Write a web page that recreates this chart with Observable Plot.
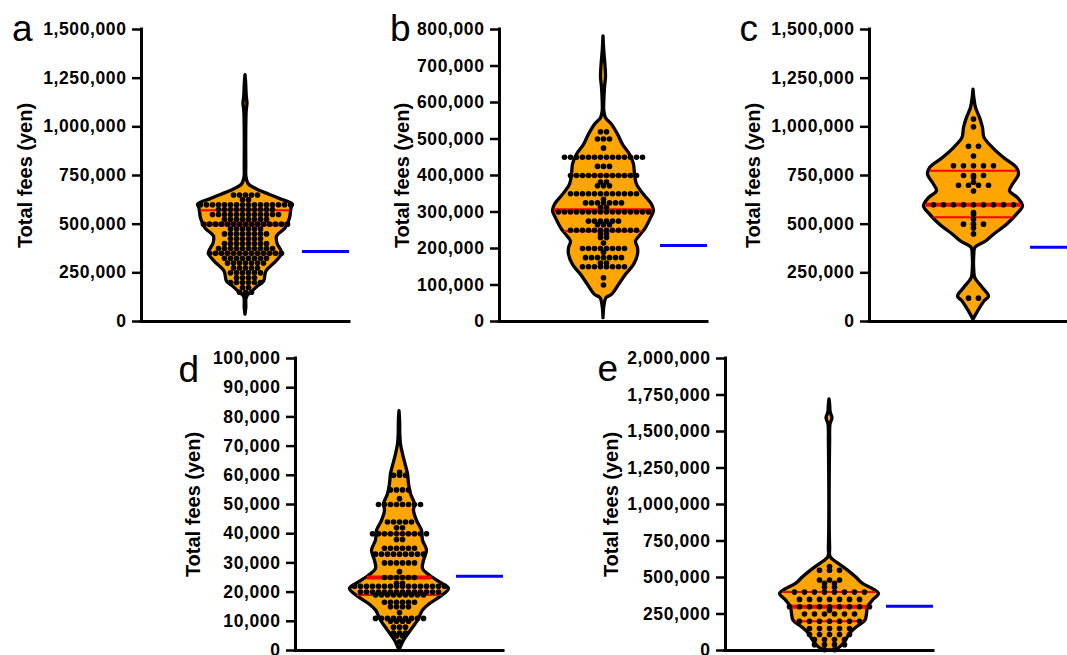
<!DOCTYPE html>
<html><head><meta charset="utf-8">
<script src="https://cdn.jsdelivr.net/npm/d3@7"></script>
<script src="https://cdn.jsdelivr.net/npm/@observablehq/plot@0.6"></script>
<style>
html, body {margin:0; padding:0; background:#fff; overflow:hidden;}
#chart {position:relative; width:1067px; height:655px; overflow:hidden; background:#fff;}
.panel {position:absolute;}
.panel svg {overflow:visible; background:transparent;}
.panel [aria-label^="y-axis"] text {font-family:"Liberation Sans", Arial, sans-serif; font-size:17.5px; font-weight:bold; letter-spacing:0.6px; fill:#000;}
.panel [aria-label^="y-axis"] line, .panel [aria-label^="y-axis"] path {stroke:#000; stroke-width:2.5px;}
</style></head>
<body><div id="chart"></div>
<script>
// ---------- data ----------
const yLabel = "Total fees (yen)";
const panelLetters = ["a", "b", "c", "d", "e"];

const aTicks = [0, 250000, 500000, 750000, 1000000, 1250000, 1500000];
const bTicks = [0, 100000, 200000, 300000, 400000, 500000, 600000, 700000, 800000];
const cTicks = [0, 250000, 500000, 750000, 1000000, 1250000, 1500000];
const dTicks = [0, 10000, 20000, 30000, 40000, 50000, 60000, 70000, 80000, 90000, 100000];
const eTicks = [0, 250000, 500000, 750000, 1000000, 1250000, 1500000, 1750000, 2000000];

// violin outline: [fee, density (half width)]
const aViolin = [[35000,0],[70000,0.8],[110000,0.8],[128000,1.5],[154000,7],[180000,12.5],[205000,18.5],[257000,21],[308000,31],[350000,36.5],[400000,32],[436000,31.5],[478000,40],[529000,44.5],[580000,46],[600000,47.5],[612000,44],[626000,36],[652000,23.5],[678000,11.5],[703000,3.5],[740000,1],[800000,0.8],[1000000,0.8],[1080000,1.2],[1120000,2],[1160000,1.2],[1230000,0.6],[1266000,0]];
const bViolin = [[9000,0],[40000,0.8],[64000,3],[73000,8.5],[100000,15.5],[128000,22.5],[155000,30.5],[183000,34.5],[201000,34.5],[219000,32.5],[238000,37.5],[256000,42.5],[283000,47.5],[302000,50.5],[320000,48.5],[347000,40.5],[375000,33.5],[402000,31.5],[430000,30.5],[457000,26.5],[484000,19.5],[512000,14.5],[539000,8.5],[557000,2.5],[576000,0.8],[603000,0.8],[640000,1.5],[670000,2.5],[700000,2],[740000,0.8],[781000,0]];
const cViolin = [[9000,0],[51000,4.5],[103000,11],[128000,15.5],[171000,9.5],[223000,1.8],[257000,0.8],[343000,0.8],[377000,1.8],[411000,12.5],[446000,20.5],[497000,33.5],[549000,43.5],[591000,49.5],[634000,44.5],[668000,36.5],[711000,40.5],[754000,45.5],[788000,43.5],[840000,30.5],[891000,19.5],[943000,11],[994000,9.5],[1046000,6.5],[1097000,2.5],[1149000,0.8],[1191000,0]];
const dViolin = [[0,0],[3400,4.5],[6800,11.5],[10200,18.5],[13700,23.5],[15900,30.5],[18200,40.5],[21100,49.5],[23300,40.5],[25600,30.5],[27900,23.5],[30700,24.5],[34200,27.5],[37600,23.5],[41000,22.5],[44400,17.5],[47800,14.5],[50100,15.5],[53500,11.5],[57000,9.5],[60400,8.5],[63800,6],[67200,3.5],[70600,1.5],[74000,0.8],[78600,0.6],[82000,0]];
const eViolin = [[0,4],[11000,8.5],[34000,12.5],[68000,16.5],[114000,20.5],[159000,27.5],[205000,36],[250000,37.5],[296000,38.5],[342000,43.5],[387000,49.5],[421000,43.5],[456000,33.5],[501000,26.5],[547000,18.5],[592000,9.5],[638000,1.2],[706000,0.6],[1435000,0.6],[1549000,1],[1590000,3],[1629000,1.2],[1686000,0.6],[1720000,0]];

// individual patients: [fee, number of patients]
const aPoints = [[130000,1],[150000,3],[175000,2],[200000,6],[225000,4],[250000,6],[275000,5],[300000,7],[325000,8],[350000,13],[375000,10],[400000,8],[425000,6],[450000,8],[475000,6],[500000,15],[525000,8],[550000,12],[575000,10],[600000,16],[625000,2],[650000,5]];
const bPoints = [[100000,1],[120000,1],[150000,8],[160000,2],[175000,7],[190000,1],[200000,8],[215000,1],[230000,2],[240000,2],[250000,12],[265000,3],[275000,6],[300000,16],[312000,2],[325000,7],[335000,1],[350000,12],[372000,3],[382000,2],[400000,12],[425000,3],[450000,14],[475000,1],[500000,3],[520000,2]];
const cPoints = [[120000,2],[450000,1],[480000,1],[500000,3],[525000,1],[550000,1],[560000,1],[600000,9],[670000,1],[700000,4],[715000,1],[740000,1],[750000,3],[800000,5],[850000,1],[900000,2],[1000000,1],[1040000,1]];
const dPoints = [[3000,1],[5000,2],[6000,3],[8000,3],[10000,4],[11000,9],[13000,1],[15000,4],[16500,6],[19000,9],[20000,14],[22000,16],[23000,2],[25000,6],[27000,1],[30000,6],[33000,9],[35000,6],[38000,2],[40000,10],[42000,2],[44000,5],[50000,8],[52000,1],[55000,4],[60000,3],[61000,1]];
const ePoints = [[5000,2],[40000,4],[75000,4],[110000,5],[150000,5],[200000,7],[250000,6],[275000,1],[300000,9],[350000,7],[400000,8],[433000,2],[460000,2],[483000,3],[550000,3],[575000,1]];

// [Q1, median, Q3]
const aQuartiles = [349000, 499000, 572000];
const bQuartiles = [247000, 305000, 400000];
const cQuartiles = [535000, 600000, 775000];
const dQuartiles = [19000, 25000, 40000];
const eQuartiles = [200000, 300000, 400000];

// reference value (blue line)
const aReference = [359000];
const bReference = [208000];
const cReference = [382000];
const dReference = [25400];
const eReference = [303000];

// ---------- layout ----------
const ML = 141, MR = 4, MT = 30, MB = 25, FW = 208, FH = 292;
const HALF = FW / 2;
const panels = [
  {letter: panelLetters[0], ticks: aTicks, violin: aViolin, points: aPoints, q: aQuartiles, ref: aReference, axisX: 141, topY: 28.5, spacing: 6, letterDx: -129.5, letterDy: 11.5, labelDx: -116},
  {letter: panelLetters[1], ticks: bTicks, violin: bViolin, points: bPoints, q: bQuartiles, ref: bReference, axisX: 498.5, topY: 28.5, spacing: 6, letterDx: -109.5, letterDy: 11.5, labelDx: -96.5},
  {letter: panelLetters[2], ticks: cTicks, violin: cViolin, points: cPoints, q: cQuartiles, ref: cReference, axisX: 868.5, topY: 28.5, spacing: 10, letterDx: -130, letterDy: 11.5, labelDx: -116},
  {letter: panelLetters[3], ticks: dTicks, violin: dViolin, points: dPoints, q: dQuartiles, ref: dReference, axisX: 295, topY: 358, spacing: 6, letterDx: -117, letterDy: 23, labelDx: -102},
  {letter: panelLetters[4], ticks: eTicks, violin: eViolin, points: ePoints, q: eQuartiles, ref: eReference, axisX: 725, topY: 358, spacing: 10, letterDx: -128, letterDy: 22, labelDx: -114}
];

function halfWidth(profile, v) {
  for (let i = 1; i < profile.length; i++) {
    const [v0, w0] = profile[i - 1], [v1, w1] = profile[i];
    if (v >= v0 && v <= v1) return w0 + (w1 - w0) * (v - v0) / (v1 - v0);
  }
  return 0;
}

const chart = document.getElementById("chart");
const font = "'Liberation Sans', Arial, sans-serif";

for (const p of panels) {
  const dots = p.points.flatMap(([v, n]) => d3.range(n).map(i => ({v, x: (i - (n - 1) / 2) * p.spacing})));
  const ymax = p.ticks[p.ticks.length - 1];
  const qOuter = [p.q[0], p.q[2]];
  const qMed = [p.q[1]];
  const hw = v => Math.max(0, halfWidth(p.violin, v) - 1);
  const svg = Plot.plot({
    width: ML + FW + MR, height: MT + FH + MB,
    marginLeft: ML, marginRight: MR, marginTop: MT, marginBottom: MB,
    x: {domain: [-HALF, HALF], axis: null},
    y: {domain: [0, ymax], ticks: p.ticks, tickSize: 9, tickPadding: 6, tickFormat: d3.format(","), label: null},
    style: {fontFamily: font, background: "transparent", overflow: "visible", color: "#000"},
    marks: [
      Plot.areaX(p.violin, {y: d => d[0], x1: d => -d[1], x2: d => d[1], fill: "#FFA500", stroke: "#000", strokeWidth: 3.3, strokeLinejoin: "round", curve: "catmull-rom"}),
      Plot.ruleY(qOuter, {y: d => d, x1: d => -hw(d), x2: d => hw(d), stroke: "#FF0000", strokeWidth: 2}),
      Plot.ruleY(qMed, {y: d => d, x1: d => -hw(d), x2: d => hw(d), stroke: "#FF0000", strokeWidth: 4}),
      Plot.dot(dots, {x: "x", y: "v", r: 2.8, fill: "#000", stroke: "none"}),
      Plot.ruleY(p.ref, {y: d => d, x1: 57, x2: HALF, stroke: "#0000FF", strokeWidth: 3}),
      Plot.ruleX([-HALF], {stroke: "#000", strokeWidth: 3, strokeLinecap: "square"}),
      Plot.ruleY([0], {stroke: "#000", strokeWidth: 3, strokeLinecap: "square"}),
      Plot.text([yLabel], {text: d => d, frameAnchor: "left", dx: p.labelDx, rotate: -90, textAnchor: "middle", lineAnchor: "middle", fontSize: 20, fontWeight: "bold", fill: "#000"}),
      Plot.text([p.letter], {text: d => d, frameAnchor: "top-left", dx: p.letterDx, dy: p.letterDy, textAnchor: "start", lineAnchor: "bottom", fontSize: 37, fill: "#000"})
    ]
  });
  const div = document.createElement("div");
  div.className = "panel";
  div.style.left = (p.axisX - ML) + "px";
  div.style.top = (p.topY - MT) + "px";
  div.style.width = (ML + FW + MR) + "px";
  div.appendChild(svg);
  chart.appendChild(div);
}
</script>
</body></html>
